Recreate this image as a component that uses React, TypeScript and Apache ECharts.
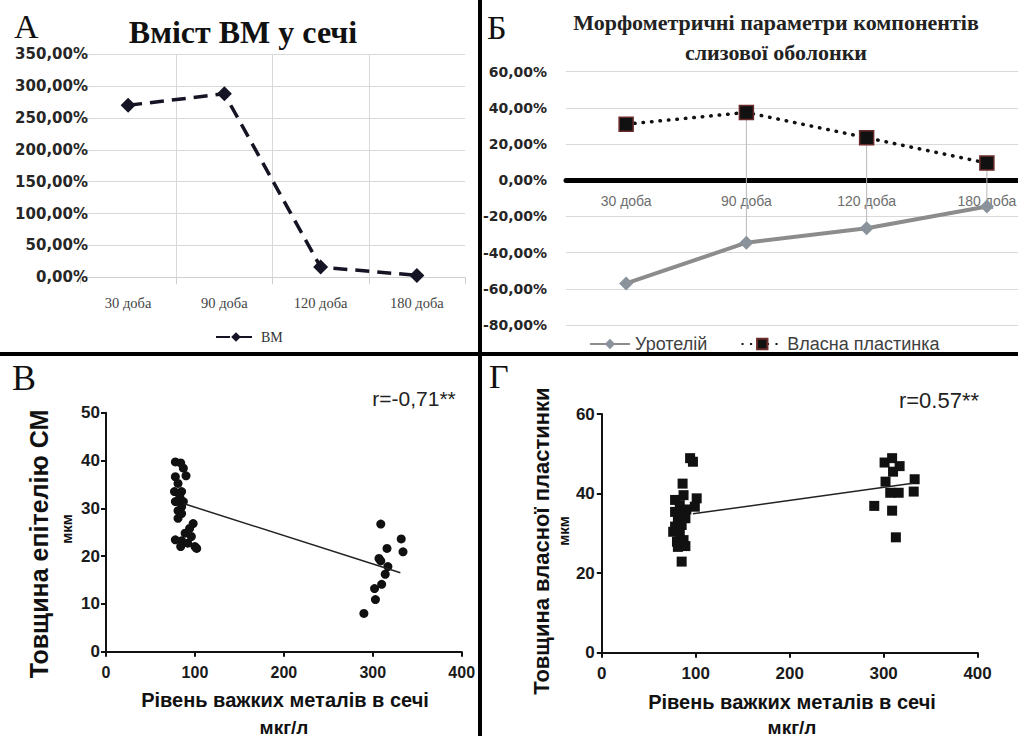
import { useEffect, useRef } from "react";
import * as echarts from "echarts";

// ---------- Data ----------
const days = ["30 доба", "90 доба", "120 доба", "180 доба"];
// Panel А: heavy metals content in urine (%)
const bmValues = [270, 288, 16, 3];
// Panel Б: morphometric parameters (%)
const urotheliumValues = [-57, -34.5, -26.5, -14.5];
const laminaValues = [31, 37.5, 23.5, 9.5];
// categories that show a high-low connector in panel Б
const highLowIdx = [1, 2, 3];

// Panel В: epithelium thickness vs metals level
const epitheliumControl: number[][] = [
  [78, 39.7], [84, 39.5], [87, 38.4], [78, 36.6], [90, 36.8], [81, 35.2],
  [77, 33.5], [85, 33.5], [83, 32.4], [78, 31.4], [87, 31.4], [85, 30.3],
  [85, 28.9], [81, 29.5], [81, 27.9], [98, 26.8], [94, 25.8], [89, 24.8],
  [96, 24.1], [78, 23.4], [85, 23.2], [92, 22.7], [84, 22], [100, 22], [102, 21.6],
];
const epitheliumExposed: number[][] = [
  [309, 26.7], [332, 23.6], [334, 20.9], [316, 21.6], [307, 19.5], [309, 19],
  [317, 17.8], [314, 16.2], [310, 14.1], [302, 13.2], [303, 10.9], [290, 8],
];
const epitheliumFit: number[][] = [[87, 31], [331, 16.5]];
const epitheliumR = "r=-0,71**";

// Panel Г: lamina propria thickness vs metals level
const laminaControl: number[][] = [
  [94, 48.9], [97, 48], [86, 42.5], [78, 38.4], [87, 39.6], [101, 38.8],
  [99, 36.7], [83, 37.1], [78, 35.4], [87, 35], [81, 33.4], [89, 33.8],
  [78, 31.7], [85, 32.1], [76, 30.4], [83, 30], [80, 27.9], [87, 28.3],
  [81, 26.6], [89, 26.8], [85, 22.9], [90, 36], [84, 34.5],
];
const laminaExposed: number[][] = [
  [301, 47.8], [309, 48.9], [317, 46.9], [310, 45.5], [302, 43], [333, 43.6],
  [307, 40.2], [316, 40.2], [332, 40.5], [290, 36.9], [309, 35.7], [313, 29],
];
const laminaFit: number[][] = [[97, 34.9], [331, 42.6]];
const laminaR = "r=0.57**";

const fmtPct = (v: number) => v.toFixed(2).replace(".", ",") + "%";

const SANS = "Liberation Sans";
const SERIF = "Liberation Serif";
const DEJAVU = "DejaVu Sans";

function txt(
  text: string,
  x: number,
  y: number,
  size: number,
  opts: { family?: string; weight?: string; align?: string; rotate?: boolean; fill?: string } = {}
) {
  const align = opts.align || "center";
  return {
    type: "text",
    x,
    y,
    rotation: opts.rotate ? Math.PI / 2 : 0,
    z: 10,
    style: {
      text,
      fontSize: size,
      fontFamily: opts.family || SANS,
      fontWeight: opts.weight || "normal",
      fill: opts.fill || "#111",
      align,
      textAlign: align,
      verticalAlign: "middle",
      textVerticalAlign: "middle",
    },
  };
}

export default function App() {
  const ref = useRef<HTMLDivElement>(null);

  useEffect(() => {
    document.body.style.margin = "0";
    if (!ref.current) return;
    const chart = echarts.init(ref.current, undefined, { renderer: "svg" });

    const tickLabelBold = { fontFamily: SANS, fontWeight: "bold", fontSize: 17, color: "#1a1a1a" };

    const option: any = {
      animation: false,
      backgroundColor: "#fff",
      grid: [
        { left: 80, top: 54.3, width: 385, height: 223, outerBoundsMode: "none" },
        { left: 566, top: 71.7, width: 481, height: 253.3, outerBoundsMode: "none" },
        { left: 106, top: 412.7, width: 355.7, height: 239, outerBoundsMode: "none" },
        { left: 601.8, top: 414, width: 375.8, height: 238.7, outerBoundsMode: "none" },
      ],
      xAxis: [
        {
          gridIndex: 0,
          type: "category",
          data: days,
          boundaryGap: true,
          axisLine: { lineStyle: { color: "#d0d0d0", width: 1 } },
          axisTick: { show: true, length: 7, lineStyle: { color: "#d0d0d0" } },
          splitLine: { show: true, showMinLine: false, showMaxLine: false, lineStyle: { color: "#d9d9d9" } },
          axisLabel: { fontFamily: SERIF, fontSize: 14.5, color: "#444", margin: 18 },
        },
        {
          gridIndex: 1,
          type: "category",
          data: days,
          boundaryGap: true,
          axisLine: { onZero: true, lineStyle: { color: "#000", width: 5 } },
          axisTick: { show: false },
          splitLine: { show: false },
          axisLabel: { fontFamily: SANS, fontSize: 14, color: "#6e6e6e", margin: -131 },
        },
        {
          gridIndex: 2,
          type: "value",
          min: 0,
          max: 400,
          interval: 100,
          axisLine: { show: true, lineStyle: { color: "#111", width: 2 } },
          axisTick: { show: true, length: 5, lineStyle: { color: "#111", width: 2 } },
          splitLine: { show: false },
          axisLabel: { ...tickLabelBold, fontSize: 16, margin: 13 },
        },
        {
          gridIndex: 3,
          type: "value",
          min: 0,
          max: 400,
          interval: 100,
          axisLine: { show: true, lineStyle: { color: "#111", width: 2 } },
          axisTick: { show: true, length: 5, lineStyle: { color: "#111", width: 2 } },
          splitLine: { show: false },
          axisLabel: { ...tickLabelBold, fontSize: 17, margin: 12 },
        },
      ],
      yAxis: [
        {
          gridIndex: 0,
          type: "value",
          min: 0,
          max: 350,
          interval: 50,
          axisLine: { show: false },
          axisTick: { show: false },
          splitLine: { show: true, lineStyle: { color: "#d9d9d9" } },
          axisLabel: {
            formatter: fmtPct,
            fontFamily: DEJAVU,
            fontWeight: "bold",
            fontSize: 15,
            color: "#262626",
            margin: -8,
          },
        },
        {
          gridIndex: 1,
          type: "value",
          min: -80,
          max: 60,
          interval: 20,
          axisLine: { show: false },
          axisTick: { show: false },
          splitLine: { show: true, lineStyle: { color: "#d9d9d9" } },
          axisLabel: {
            formatter: fmtPct,
            fontFamily: DEJAVU,
            fontWeight: "bold",
            fontSize: 14,
            color: "#262626",
            margin: 19,
          },
        },
        {
          gridIndex: 2,
          type: "value",
          min: 0,
          max: 50,
          interval: 10,
          axisLine: { show: true, lineStyle: { color: "#111", width: 2 } },
          axisTick: { show: true, length: 5, lineStyle: { color: "#111", width: 2 } },
          splitLine: { show: false },
          axisLabel: { ...tickLabelBold, margin: 6 },
        },
        {
          gridIndex: 3,
          type: "value",
          min: 0,
          max: 60,
          interval: 20,
          axisLine: { show: true, lineStyle: { color: "#111", width: 2 } },
          axisTick: { show: true, length: 5, lineStyle: { color: "#111", width: 2 } },
          splitLine: { show: false },
          axisLabel: { ...tickLabelBold, margin: 7 },
        },
      ],
      legend: [
        {
          data: ["ВМ"],
          left: 210,
          top: 325,
          itemWidth: 40,
          itemHeight: 12,
          itemGap: 4,
          textStyle: { fontFamily: SERIF, fontSize: 14, color: "#333" },
        },
        {
          data: ["Уротелій", "Власна пластинка"],
          left: 584,
          top: 330,
          itemWidth: 40,
          itemHeight: 13,
          itemGap: 34,
          textStyle: { fontFamily: SANS, fontSize: 18, color: "#404040" },
        },
      ],
      series: [
        {
          name: "ВМ",
          type: "line",
          xAxisIndex: 0,
          yAxisIndex: 0,
          data: bmValues,
          symbol: "diamond",
          symbolSize: 15,
          itemStyle: { color: "#141425" },
          lineStyle: { color: "#141425", width: 3.5, type: [14, 8] },
          z: 5,
        },
        {
          type: "custom",
          xAxisIndex: 1,
          yAxisIndex: 1,
          silent: true,
          z: 1,
          data: highLowIdx.map((i) => [i, laminaValues[i], urotheliumValues[i]]),
          renderItem: (_params: any, api: any) => {
            const p1 = api.coord([api.value(0), api.value(1)]);
            const p2 = api.coord([api.value(0), api.value(2)]);
            return {
              type: "line",
              shape: { x1: p1[0], y1: p1[1], x2: p2[0], y2: p2[1] },
              style: { stroke: "#b8b8b8", lineWidth: 1 },
            };
          },
        },
        {
          name: "Уротелій",
          type: "line",
          xAxisIndex: 1,
          yAxisIndex: 1,
          data: urotheliumValues,
          symbol: "diamond",
          symbolSize: 14,
          itemStyle: { color: "#8a939b" },
          lineStyle: { color: "#8c8c8c", width: 4 },
          z: 5,
        },
        {
          name: "Власна пластинка",
          type: "line",
          xAxisIndex: 1,
          yAxisIndex: 1,
          data: laminaValues,
          symbol: "rect",
          symbolSize: 14,
          itemStyle: { color: "#111", borderColor: "#6b2b2b", borderWidth: 1.5 },
          lineStyle: { color: "#111", width: 3.5, type: [0.5, 8], cap: "round" },
          z: 5,
        },
        {
          type: "scatter",
          xAxisIndex: 2,
          yAxisIndex: 2,
          data: [...epitheliumControl, ...epitheliumExposed],
          symbol: "circle",
          symbolSize: 9,
          itemStyle: { color: "#111", opacity: 1 },
        },
        {
          type: "line",
          xAxisIndex: 2,
          yAxisIndex: 2,
          data: epitheliumFit,
          symbol: "none",
          lineStyle: { color: "#222", width: 1.5 },
        },
        {
          type: "scatter",
          xAxisIndex: 3,
          yAxisIndex: 3,
          data: [...laminaControl, ...laminaExposed],
          symbol: "rect",
          symbolSize: 10,
          itemStyle: { color: "#111", opacity: 1 },
        },
        {
          type: "line",
          xAxisIndex: 3,
          yAxisIndex: 3,
          data: laminaFit,
          symbol: "none",
          lineStyle: { color: "#222", width: 1.5 },
        },
      ],
      graphic: [
        // dividers
        { type: "line", shape: { x1: 480, y1: 0, x2: 480, y2: 736 }, style: { stroke: "#000", lineWidth: 4 }, z: 20 },
        { type: "line", shape: { x1: 0, y1: 354, x2: 1018, y2: 354 }, style: { stroke: "#000", lineWidth: 4 }, z: 20 },
        // panel letters
        txt("А", 14, 26, 34, { family: SERIF, align: "left" }),
        txt("Б", 487, 27, 34, { family: SERIF, align: "left" }),
        txt("В", 12, 378, 36, { family: SERIF, align: "left" }),
        txt("Г", 489, 376, 34, { family: SERIF, align: "left" }),
        // titles
        txt("Вміст ВМ у сечі", 243, 32, 32, { family: SERIF, weight: "bold" }),
        txt("Морфометричні параметри компонентів", 776, 22, 22, { family: SERIF, weight: "bold", fill: "#222" }),
        txt("слизової оболонки", 776, 52, 22, { family: SERIF, weight: "bold", fill: "#222" }),
        // correlations
        txt(epitheliumR, 414, 398, 21, { fill: "#222" }),
        txt(laminaR, 939, 400, 22, { fill: "#222" }),
        // axis titles В
        txt("Товщина епітелію СМ", 39, 544, 25, { weight: "bold", rotate: true }),
        txt("мкм", 66, 529, 15, { weight: "bold", rotate: true }),
        txt("Рівень важких металів в сечі", 285, 700, 20, { weight: "bold" }),
        txt("мкг/л", 284, 727, 19, { weight: "bold" }),
        // axis titles Г
        txt("Товщина власної пластинки", 541, 541, 22, { weight: "bold", rotate: true }),
        txt("мкм", 563, 531, 15, { weight: "bold", rotate: true }),
        txt("Рівень важких металів в сечі", 792, 702, 20, { weight: "bold" }),
        txt("мкг/л", 792, 727, 19, { weight: "bold" }),
      ],
    };

    chart.setOption(option);
    return () => chart.dispose();
  }, []);

  return <div ref={ref} style={{ width: 1018, height: 736 }} />;
}
